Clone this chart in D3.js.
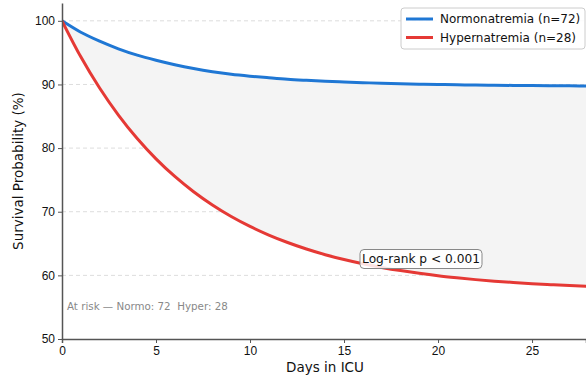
<!DOCTYPE html>
<meta charset="utf-8">
<style>
body { margin: 0; background: #fff; }
svg { font-family: "DejaVu Sans", sans-serif; }
.grid line { stroke: #ddd; stroke-dasharray: 4,3; }
.axis path, .axis line { stroke: #555; }
.axis text { fill: #111; font-size: 12px; }
</style>
<script src="https://d3js.org/d3.v7.min.js"></script>
<svg width="586" height="379"></svg>
<script>

// days in ICU and survival (%)
var days = [0, 1, 2, 3, 4, 5, 6, 7, 8, 9, 10, 11, 12, 13, 14, 15, 16, 17, 18, 19, 20, 21, 22, 23, 24, 25, 26, 27, 28];
var normo = [100, 98.2, 96.8, 95.6, 94.6, 93.8, 93.1, 92.5, 92.0, 91.6, 91.3, 91.05, 90.82, 90.65, 90.5, 90.38, 90.28, 90.19, 90.11, 90.05, 90.0, 89.95, 89.91, 89.88, 89.85, 89.82, 89.8, 89.78, 89.76];
var hyper = [100, 94.34, 89.44, 85.19, 81.5, 78.31, 75.54, 73.14, 71.06, 69.25, 67.69, 66.33, 65.16, 64.14, 63.25, 62.49, 61.82, 61.25, 60.75, 60.32, 59.94, 59.62, 59.33, 59.09, 58.88, 58.69, 58.54, 58.4, 58.28];
var yTicks = [50, 60, 70, 80, 90, 100];
var xTicks = [0, 5, 10, 15, 20, 25];
var seriesNames = ["Normonatremia (n=72)", "Hypernatremia (n=28)"];
var seriesColors = ["#1f77d4", "#e53935"];

var svg = d3.select("svg");
var mLeft = 62, mRight = 586, mTop = 3, mBottom = 339;

var x = d3.scaleLinear().domain([0, 27.87]).range([mLeft, mRight]);
var y = d3.scaleLinear().domain([50, 102.8]).range([mBottom, mTop]);

svg.append("defs").append("clipPath").attr("id", "clip")
    .append("rect").attr("x", mLeft).attr("y", mTop).attr("width", mRight - mLeft).attr("height", mBottom - mTop);

// grid
svg.append("g").attr("class", "grid")
    .selectAll("line").data(yTicks.slice(1))
    .enter().append("line")
    .attr("x1", mLeft).attr("x2", mRight)
    .attr("y1", function(d) { return y(d); })
    .attr("y2", function(d) { return y(d); });

var rows = days.map(function(d, i) { return {t: d, n: normo[i], h: hyper[i]}; });

var plot = svg.append("g").attr("clip-path", "url(#clip)");

plot.append("path")
    .datum(rows)
    .attr("fill", "#f4f4f4")
    .attr("d", d3.area()
        .curve(d3.curveMonotoneX)
        .x(function(d) { return x(d.t); })
        .y0(function(d) { return y(d.h); })
        .y1(function(d) { return y(d.n); }));

var line = d3.line().curve(d3.curveMonotoneX);

[normo, hyper].forEach(function(vals, k) {
    plot.append("path")
        .datum(days.map(function(d, i) { return [x(d), y(vals[i])]; }))
        .attr("fill", "none")
        .attr("stroke", seriesColors[k])
        .attr("stroke-width", 3)
        .attr("stroke-linejoin", "round")
        .attr("d", line);
});

// axes
svg.append("g").attr("class", "axis")
    .attr("transform", "translate(0," + mBottom + ")")
    .call(d3.axisBottom(x).tickValues(xTicks).tickSize(4).tickPadding(3))
    .select(".domain").attr("stroke-width", 1.5);

svg.append("g").attr("class", "axis")
    .attr("transform", "translate(" + mLeft + ",0)")
    .call(d3.axisLeft(y).tickValues(yTicks).tickSize(4).tickPadding(3).tickSizeOuter(0))
    .select(".domain").attr("stroke-width", 1.5);

svg.append("text")
    .attr("x", 325).attr("y", 372)
    .attr("text-anchor", "middle")
    .attr("font-size", 13.5).attr("fill", "#111")
    .text("Days in ICU");

svg.append("text")
    .attr("transform", "translate(23," + ((mTop + mBottom) / 2) + ") rotate(-90)")
    .attr("text-anchor", "middle")
    .attr("font-size", 13.5).attr("fill", "#111")
    .text("Survival Probability (%)");

// at risk note
svg.append("text")
    .attr("x", 67).attr("y", 310)
    .attr("font-size", 10.3).attr("fill", "#888")
    .style("white-space", "pre")
    .text("At risk \u2014 Normo: 72  Hyper: 28");

// log-rank box
var lr = svg.append("g").attr("transform", "translate(421,259)");
lr.append("rect")
    .attr("x", -61).attr("y", -9.5).attr("width", 122).attr("height", 19)
    .attr("rx", 4)
    .attr("fill", "#fff").attr("fill-opacity", 0.85)
    .attr("stroke", "#888").attr("stroke-width", 1);
lr.append("text")
    .attr("text-anchor", "middle").attr("dy", "0.36em")
    .attr("font-size", 12.2).attr("fill", "#111")
    .text("Log-rank p < 0.001");

// legend
var lg = svg.append("g").attr("transform", "translate(401,8)");
lg.append("rect")
    .attr("width", 184).attr("height", 41).attr("rx", 3)
    .attr("fill", "#fff").attr("fill-opacity", 0.85)
    .attr("stroke", "#ccc");
seriesNames.forEach(function(name, i) {
    var row = lg.append("g").attr("transform", "translate(0," + (11 + i * 18.5) + ")");
    row.append("line")
        .attr("x1", 5).attr("x2", 32)
        .attr("stroke", seriesColors[i]).attr("stroke-width", 3);
    row.append("text")
        .attr("x", 39).attr("dy", "0.36em")
        .attr("font-size", 12).attr("fill", "#111")
        .text(name);
});

</script>
